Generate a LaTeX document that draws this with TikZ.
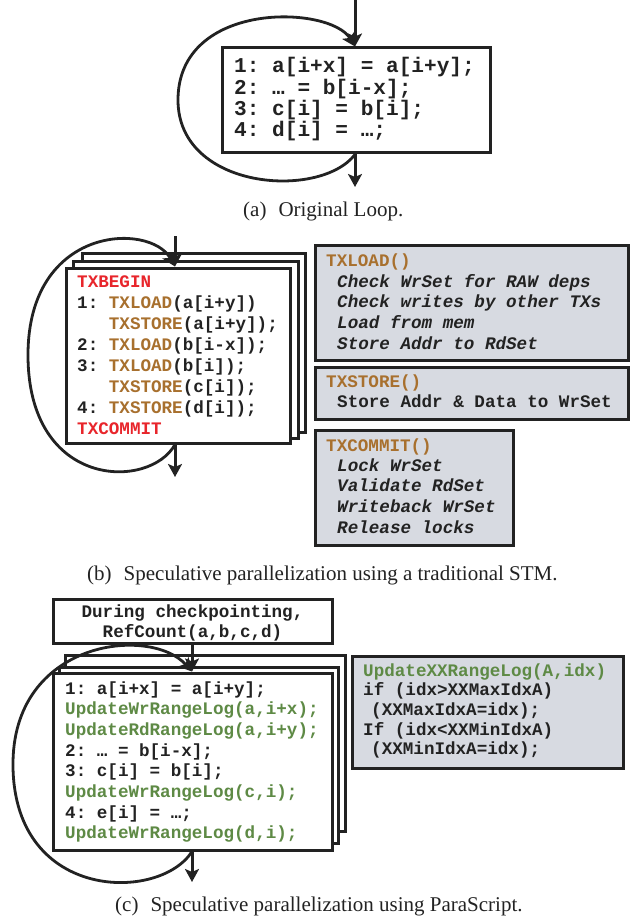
\documentclass[tikz,border=0pt]{standalone}
\usepackage{fontspec}
\setmainfont{Liberation Serif}
\setmonofont{Liberation Mono}
\usetikzlibrary{arrows.meta}

\definecolor{ink}{HTML}{222222}
\definecolor{txred}{HTML}{E8252B}
\definecolor{txbrown}{HTML}{A8702E}
\definecolor{psgreen}{HTML}{5E8A45}
\definecolor{panel}{HTML}{D7DAE1}

\tikzset{
  frame/.style={draw=ink, line width=3pt, fill=white, inner sep=0pt},
  infobox/.style={draw=ink, line width=3pt, fill=panel, inner sep=0pt},
  flow/.style={draw=ink, line width=3pt, -{Stealth[length=13pt,width=14pt,inset=3pt]}},
  loopline/.style={draw=ink, line width=2.8pt, -{Stealth[length=13pt,width=14pt,inset=3pt]}},
  bigcode/.style={font=\fontsize{21.1}{21}\selectfont\ttfamily\bfseries, text=ink, anchor=base west, inner sep=0pt},
  code/.style={font=\fontsize{17.6}{21}\selectfont\ttfamily\bfseries, text=ink, anchor=base west, inner sep=0pt},
  icode/.style={code, font=\fontsize{17.6}{21}\selectfont\ttfamily\bfseries\itshape},
  caption/.style={font=\fontsize{21}{24}\selectfont, text=ink, anchor=base west, inner sep=0pt},
}
\newcommand\kw[1]{\textcolor{txbrown}{#1}}
\newcommand\rt[1]{\textcolor{txred}{#1}}
\newcommand\gr[1]{\textcolor{psgreen}{#1}}

\begin{document}
\begin{tikzpicture}[x=1pt,y=-1pt]
\useasboundingbox (0,0) rectangle (632,920);

% ---------- (a) original loop ----------
\node[frame, minimum width=268pt, minimum height=105pt] (aBox) at (356,100.5) {};
\coordinate (aTop) at (355,0);
\coordinate (aEnd) at (355,187);
\draw[flow] (aTop) -- (aTop |- aBox.north);
\draw[flow] (aTop |- aBox.south) -- (aEnd);
\draw[loopline] (aTop |- aBox.south) .. controls (320,200) and (178,190) .. (178,100)
  .. controls (178,0) and (330,5) .. (aTop |- aBox.north);
\node[bigcode] (a1) at (234,73)   {1: a[i+x] = a[i+y];};
\node[bigcode] (a2) at (234,94.3) {2: … = b[i-x];};
\node[bigcode] (a3) at (234,115.6){3: c[i] = b[i];};
\node[bigcode] (a4) at (234,137)  {4: d[i] = …;};
\node[caption] (capA) at (243,216) {(a)\hspace{12pt}Original Loop.};

% ---------- (b) traditional STM ----------
\node[frame, minimum width=223pt, minimum height=179pt] (bBack2) at (193.5,342.5) {};
\node[frame, minimum width=225pt, minimum height=177pt] (bBack1) at (185.5,349.5) {};
\node[frame, minimum width=224pt, minimum height=175pt] (bFront) at (178,355.5) {};
\coordinate (bTop) at (175,236);
\coordinate (bEnd) at (175,477);
\draw[flow] (bTop) -- (bTop |- bFront.north);
\draw[flow] (bTop |- bFront.south) -- (bEnd);
\draw[loopline] (bTop |- bFront.south) .. controls (150,490) and (28,490) .. (28,355)
  .. controls (28,225) and (150,222) .. (bTop |- bFront.north);
\node[code] (b1) at (77,287) {\rt{TXBEGIN}};
\node[code] (b2) at (77,308) {1: \kw{TXLOAD}(a[i+y])};
\node[code] (b3) at (77,329) {\phantom{1: }\kw{TXSTORE}(a[i+y]);};
\node[code] (b4) at (77,350) {2: \kw{TXLOAD}(b[i-x]);};
\node[code] (b5) at (77,371) {3: \kw{TXLOAD}(b[i]);};
\node[code] (b6) at (77,392) {\phantom{3: }\kw{TXSTORE}(c[i]);};
\node[code] (b7) at (77,413) {4: \kw{TXSTORE}(d[i]);};
\node[code] (b8) at (77,434) {\rt{TXCOMMIT}};

% descriptions of the STM calls
\node[infobox, minimum width=313pt, minimum height=115pt] (loadBox) at (471.5,302.5) {};
\node[code]  (l0) at (326,266.5) {\kw{TXLOAD()}};
\node[icode] (l1) at (337,287)   {Check WrSet for RAW deps};
\node[icode] (l2) at (337,307.7) {Check writes by other TXs};
\node[icode] (l3) at (337,328.2) {Load from mem};
\node[icode] (l4) at (337,349)   {Store Addr to RdSet};

\node[infobox, minimum width=313pt, minimum height=52pt] (storeBox) at (471.5,393) {};
\node[code] (s0) at (326,387.3) {\kw{TXSTORE()}};
\node[code] (s1) at (337,407.8) {Store Addr \& Data to WrSet};

\node[infobox, minimum width=198pt, minimum height=115pt] (commitBox) at (414,487.5) {};
\node[code]  (c0) at (326,451)   {\kw{TXCOMMIT()}};
\node[icode] (c1) at (337,471)   {Lock WrSet};
\node[icode] (c2) at (337,491.8) {Validate RdSet};
\node[icode] (c3) at (337,512.6) {Writeback WrSet};
\node[icode] (c4) at (337,533.2) {Release locks};

\node[caption] (capB) at (87,580) {(b)\hspace{12pt}Speculative parallelization using a traditional STM.};

% ---------- (c) ParaScript ----------
\node[frame, minimum width=279pt, minimum height=44pt] (ckpt) at (192.5,621) {};
\node[code, anchor=base] (k1) at (192.5,617.3) {During checkpointing,};
\node[code, anchor=base] (k2) at (192.5,637.5) {RefCount(a,b,c,d)};

\node[frame, minimum width=280pt, minimum height=176pt] (pBack2) at (205,743) {};
\node[frame, minimum width=279pt, minimum height=176pt] (pBack1) at (198.5,755) {};
\node[frame, minimum width=279pt, minimum height=177pt] (pFront) at (192.5,761.5) {};
\coordinate (pEnd) at (192,882);
\draw[flow] (pEnd |- ckpt.south) -- (pEnd |- pFront.north);
\draw[flow] (pEnd |- pFront.south) -- (pEnd);
\draw[loopline] (pEnd |- pFront.south) .. controls (160,902) and (15,902) .. (13,767)
  .. controls (11,640) and (150,625) .. (pEnd |- pFront.north);
\node[code] (p1) at (65,694)   {1: a[i+x] = a[i+y];};
\node[code] (p2) at (65,714.7) {\gr{UpdateWrRangeLog(a,i+x);}};
\node[code] (p3) at (65,735.4) {\gr{UpdateRdRangeLog(a,i+y);}};
\node[code] (p4) at (65,756.1) {2: … = b[i-x];};
\node[code] (p5) at (65,776.8) {3: c[i] = b[i];};
\node[code] (p6) at (65,797.5) {\gr{UpdateWrRangeLog(c,i);}};
\node[code] (p7) at (65,818.2) {4: e[i] = …;};
\node[code] (p8) at (65,838.9) {\gr{UpdateWrRangeLog(d,i);}};

\node[infobox, minimum width=271pt, minimum height=112pt] (rangeBox) at (487.5,712) {};
\node[code] (r0) at (363,676)   {\gr{UpdateXXRangeLog(A,idx)}};
\node[code] (r1) at (363,695.7) {if (idx>XXMaxIdxA)};
\node[code] (r2) at (371,715.4) {(XXMaxIdxA=idx);};
\node[code] (r3) at (363,735.1) {If (idx<XXMinIdxA)};
\node[code] (r4) at (371,754.8) {(XXMinIdxA=idx);};

\node[caption] (capC) at (115,911) {(c)\hspace{12pt}Speculative parallelization using ParaScript.};
\end{tikzpicture}
\end{document}
